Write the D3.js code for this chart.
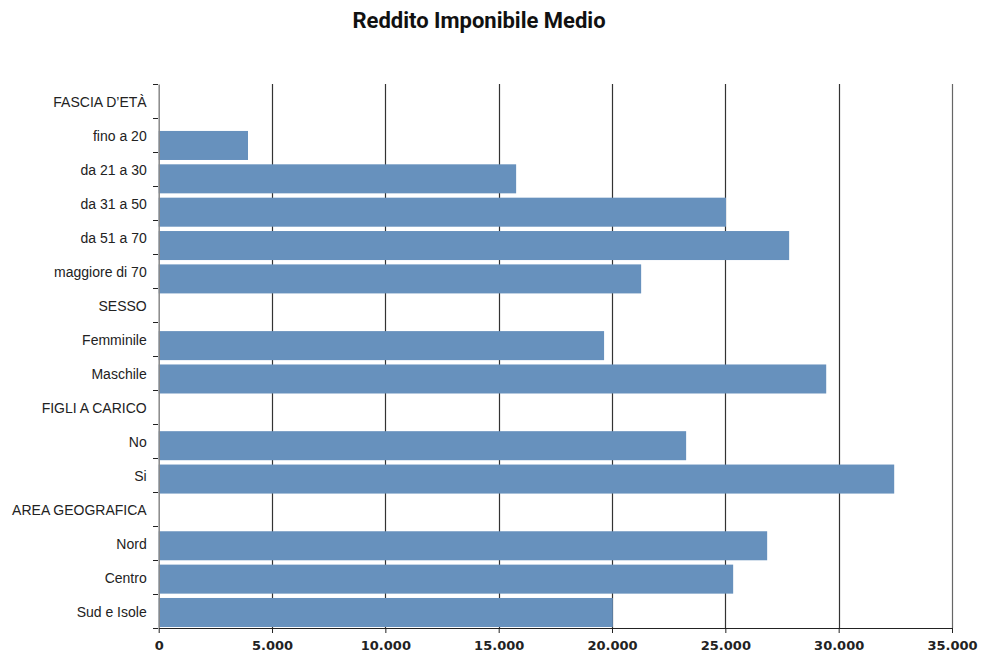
<!DOCTYPE html>
<html><head><meta charset="utf-8">
<script src="https://cdn.jsdelivr.net/npm/d3@7"></script>
<style>
html,body{margin:0;padding:0;background:#fff;}
svg{display:block;font-family:Roboto, "Liberation Sans", sans-serif;}
</style></head>
<body><svg id="chart" width="982" height="657"></svg>
<script>
const title = "Reddito Imponibile Medio";
const categories = ["FASCIA D’ETÀ","fino a 20","da 21 a 30","da 31 a 50","da 51 a 70","maggiore di 70",
  "SESSO","Femminile","Maschile","FIGLI A CARICO","No","Si","AREA GEOGRAFICA","Nord","Centro","Sud e Isole"];
const values = [null,3940,15770,25030,27815,21285,null,19650,29450,null,23270,32450,null,26845,25345,20035];
const xTicks = [0,5000,10000,15000,20000,25000,30000,35000];
const xTickLabels = ["0","5.000","10.000","15.000","20.000","25.000","30.000","35.000"];

const svg = d3.select("#chart");
const x = d3.scaleLinear().domain([0,35000]).range([158.7,952]);
const yAxisScale = d3.scaleBand().domain(categories).range([84,628]).padding(0);
const yBar = d3.scaleBand().domain(categories).range([97.6,627]).paddingInner(0.13).paddingOuter(0);

svg.append("text").attr("x",479).attr("y",28).attr("text-anchor","middle")
  .attr("font-size",22).attr("font-weight",700).attr("fill","#111").text(title);

// gridlines
svg.append("g").selectAll("line").data(xTicks.slice(1)).join("line")
  .attr("x1",d=>Math.round(x(d))+0.5).attr("x2",d=>Math.round(x(d))+0.5)
  .attr("y1",84).attr("y2",628)
  .attr("stroke",(d,i)=>d===35000?"#666":"#333").attr("stroke-width",1.2);

// bars
svg.append("g").selectAll("rect").data(categories.map((c,i)=>({c,v:values[i]})).filter(d=>d.v!=null)).join("rect")
  .attr("x",x(0)).attr("y",d=>yBar(d.c)).attr("width",d=>x(d.v)-x(0)).attr("height",yBar.bandwidth())
  .attr("fill","#6791BD");

// y axis
const yAxis = d3.axisLeft(yAxisScale).tickSize(0).tickPadding(12);
const gy = svg.append("g").attr("transform",`translate(${x(0)},0)`).call(yAxis);
gy.select(".domain").attr("stroke","#888").attr("stroke-width",1.5);
gy.selectAll("text").attr("font-size",14).attr("font-weight",500).attr("fill","#222").attr("dy","0.4em");
// y ticks at band boundaries
const bounds = categories.map(c=>yAxisScale(c)).concat([628]);
svg.append("g").selectAll("line").data(bounds).join("line")
  .attr("x1",153).attr("x2",158).attr("y1",d=>d+0.5).attr("y2",d=>d+0.5).attr("stroke","#222");

// x axis
const xAxis = d3.axisBottom(x).tickValues(xTicks).tickFormat((d,i)=>xTickLabels[i]).tickSize(5).tickSizeOuter(0).tickPadding(8);
const gx = svg.append("g").attr("transform","translate(0,628)").call(xAxis);
gx.select(".domain").attr("stroke","#222");
gx.selectAll(".tick line").attr("stroke","#222");
gx.selectAll("text").attr("font-family","'DejaVu Sans', sans-serif").attr("font-size",13).attr("font-weight",700).attr("fill","#222");
</script></body></html>
